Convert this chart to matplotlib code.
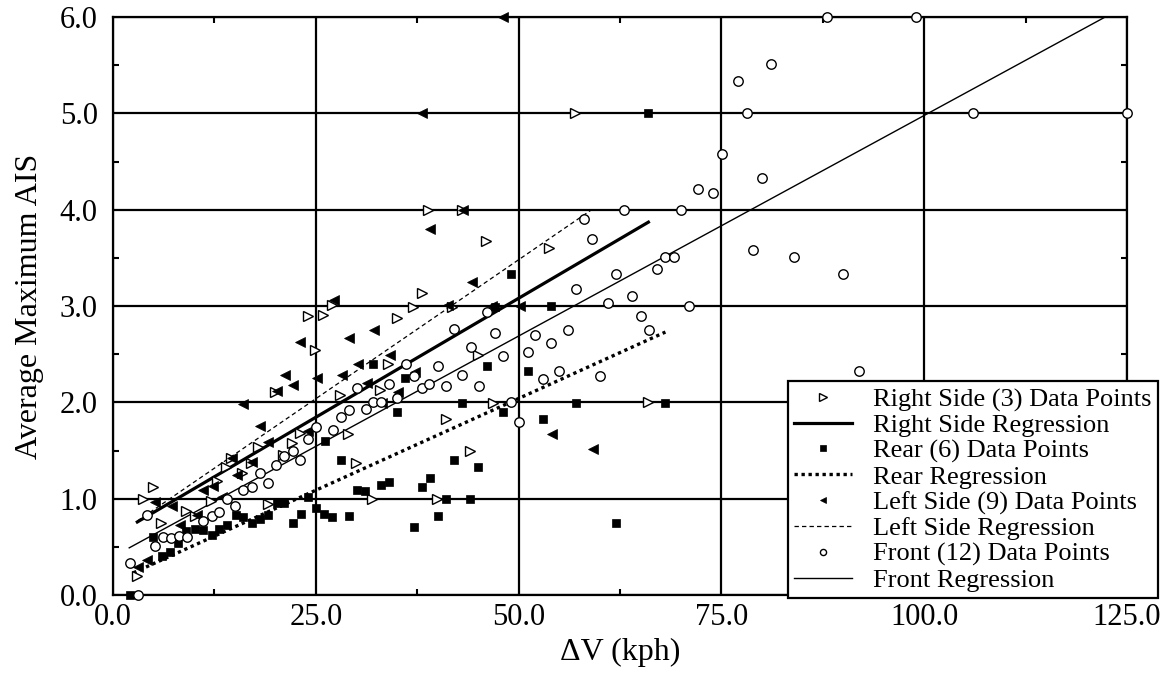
import matplotlib
matplotlib.use('Agg')
import matplotlib.pyplot as plt
from matplotlib.ticker import MultipleLocator, FormatStrFormatter
import numpy as np

plt.rcParams['font.family'] = ['Liberation Serif', 'DejaVu Serif']

# ---------------- data ----------------
right_x = [3.0, 3.7, 4.9, 5.9, 9.0, 10.1, 12.1, 12.8, 13.9, 14.6, 15.9, 17.0, 17.9, 19.1,
           20.0, 21.0, 22.1, 23.1, 24.0, 24.9, 25.9, 27.0, 28.0, 29.0, 30.0, 31.9, 32.9,
           33.9, 35.0, 37.0, 38.1, 38.8, 39.9, 41.1, 41.8, 43.0, 44.0, 45.0, 46.0, 46.9,
           53.8, 57.0, 66.0]
right_y = [0.20, 1.00, 1.12, 0.75, 0.87, 0.82, 0.98, 1.18, 1.33, 1.42, 1.27, 1.37, 1.54, 0.94,
           2.11, 1.45, 1.58, 1.68, 2.90, 2.54, 2.91, 3.01, 2.08, 1.67, 1.37, 1.00, 2.13,
           2.40, 2.88, 2.99, 3.13, 4.00, 1.00, 1.83, 2.99, 4.00, 1.50, 2.49, 3.67, 1.99,
           3.60, 5.00, 2.00]

rear_x = [2.1, 4.9, 6.0, 7.0, 8.0, 9.0, 10.1, 11.1, 12.2, 13.1, 14.1, 15.2, 16.0, 17.1, 18.1,
          19.1, 20.2, 21.1, 22.2, 23.2, 24.0, 25.0, 26.0, 26.1, 27.0, 28.1, 29.1, 30.1, 31.1,
          32.1, 33.0, 34.0, 35.0, 36.0, 37.1, 38.1, 39.1, 40.1, 41.1, 42.0, 43.0, 44.0, 45.0,
          46.1, 47.1, 48.1, 49.1, 51.1, 53.0, 54.0, 57.1, 62.0, 66.0, 68.1]
rear_y = [0.00, 0.60, 0.40, 0.45, 0.54, 0.66, 0.69, 0.67, 0.62, 0.68, 0.73, 0.83, 0.81, 0.75, 0.79,
          0.83, 0.96, 0.96, 0.75, 0.84, 1.02, 0.90, 0.84, 1.60, 0.81, 1.40, 0.82, 1.09, 1.08,
          2.40, 1.14, 1.17, 1.90, 2.25, 0.71, 1.12, 1.21, 0.82, 1.00, 1.40, 1.99, 1.00, 1.33,
          2.38, 2.99, 1.90, 3.33, 2.33, 1.83, 3.00, 1.99, 0.75, 5.00, 1.99]

left_x = [3.1, 4.2, 5.2, 7.3, 8.3, 10.3, 11.1, 12.3, 13.4, 14.7, 15.3, 16.0, 17.1, 18.1, 19.1,
          20.2, 21.2, 22.2, 23.1, 24.0, 25.1, 27.2, 28.2, 29.1, 30.2, 31.3, 32.2, 33.2, 34.2,
          35.1, 37.2, 38.1, 39.1, 41.3, 43.2, 44.3, 46.7, 48.1, 50.2, 54.1, 59.2]
left_y = [0.29, 0.36, 0.97, 0.92, 0.73, 0.83, 1.09, 1.13, 1.02, 1.42, 1.25, 1.98, 1.38, 1.75, 1.59,
          2.12, 2.28, 2.18, 2.63, 1.70, 2.25, 3.06, 2.28, 2.67, 2.40, 2.20, 2.75, 1.99, 2.49,
          2.11, 2.32, 5.00, 3.80, 3.01, 4.00, 3.25, 3.00, 6.00, 3.00, 1.67, 1.52]

front_x = [2.1, 3.1, 4.2, 5.2, 6.2, 7.1, 8.1, 9.1, 11.1, 12.2, 13.1, 14.1, 15.0, 16.0, 17.1, 18.1,
           19.1, 20.1, 21.1, 22.2, 23.1, 24.0, 25.0, 27.1, 28.1, 29.1, 30.1, 31.2, 32.1, 33.0,
           34.0, 35.0, 36.1, 37.1, 38.1, 39.0, 40.1, 41.1, 42.0, 43.0, 44.1, 45.1, 46.1, 47.1,
           48.1, 49.1, 50.0, 51.1, 52.0, 53.0, 54.0, 55.0, 56.1, 57.1, 58.1, 59.1, 60.0, 61.0,
           62.0, 63.0, 64.0, 65.1, 66.1, 67.1, 68.1, 69.1, 70.0, 71.0, 72.1, 74.0, 75.1, 77.1,
           78.1, 78.9, 80.0, 81.1, 84.0, 88.0, 90.0, 92.0, 99.0, 106.0, 125.0]
front_y = [0.33, 0.00, 0.83, 0.51, 0.60, 0.59, 0.61, 0.60, 0.77, 0.82, 0.86, 1.00, 0.92, 1.09, 1.12, 1.27,
           1.16, 1.35, 1.44, 1.49, 1.40, 1.62, 1.74, 1.71, 1.85, 1.92, 2.15, 1.93, 2.00, 2.00,
           2.19, 2.04, 2.40, 2.27, 2.15, 2.19, 2.38, 2.17, 2.76, 2.28, 2.57, 2.17, 2.94, 2.72,
           2.48, 2.00, 1.80, 2.52, 2.70, 2.24, 2.62, 2.33, 2.75, 3.18, 3.90, 3.70, 2.27, 3.03,
           3.33, 4.00, 3.10, 2.90, 2.75, 3.38, 3.51, 3.51, 4.00, 3.00, 4.21, 4.17, 4.58, 5.34,
           5.00, 3.58, 4.33, 5.51, 3.51, 6.00, 3.33, 2.33, 6.00, 5.00, 5.00]

# regression fits: (x start, x end), (intercept, slope)
right_fit_range = [3.0, 66.0]
right_fit = [0.61, 0.0494]
rear_fit_range = [2.5, 68.1]
rear_fit = [0.135, 0.0381]
left_fit_range = [3.0, 59.0]
left_fit = [0.595, 0.0577]
front_fit_range = [2.0, 122.4]
front_fit = [0.398, 0.0458]

labels = ['Right Side (3) Data Points', 'Right Side Regression',
          'Rear (6) Data Points', 'Rear Regression',
          'Left Side (9) Data Points', 'Left Side Regression',
          'Front (12) Data Points', 'Front Regression']

# ---------------- figure ----------------
W, H = 1168, 676
fig = plt.figure(figsize=(W / 100, H / 100), dpi=100)
ax = fig.add_axes([113 / W, 1 - 595 / H, (1127 - 113) / W, (595 - 17) / H])
ax.set_xlim(0, 125)
ax.set_ylim(0, 6)

ax.xaxis.set_major_locator(MultipleLocator(25))
ax.xaxis.set_minor_locator(MultipleLocator(12.5))
ax.yaxis.set_major_locator(MultipleLocator(1))
ax.yaxis.set_minor_locator(MultipleLocator(0.5))
ax.xaxis.set_major_formatter(FormatStrFormatter('%.1f'))
ax.yaxis.set_major_formatter(FormatStrFormatter('%.1f'))
ax.tick_params(which='both', direction='in', top=True, right=True, width=1.5, color='black')
ax.tick_params(which='major', length=0)
ax.tick_params(which='minor', length=4.5)
ax.tick_params(axis='x', which='major', labelsize=22, pad=6)
ax.tick_params(axis='y', which='major', labelsize=22, pad=11)

ax.grid(True, which='major', color='black', linewidth=1.6, zorder=1)
ax.set_axisbelow(True)
for s in ax.spines.values():
    s.set_linewidth(1.6)
    s.set_color('black')

ms_kw = dict(linestyle='none', clip_on=False, zorder=4)

h1, = ax.plot(right_x, right_y, marker='>', markersize=7.8, markerfacecolor='white',
              markeredgecolor='black', markeredgewidth=1.0, **ms_kw)
xr = np.array(right_fit_range)
h2, = ax.plot(xr, right_fit[0] + right_fit[1] * xr, color='black', linewidth=2.3, zorder=3)

h3, = ax.plot(rear_x, rear_y, marker='s', markersize=6.2, markerfacecolor='black',
              markeredgecolor='black', markeredgewidth=0.5, **ms_kw)
xr = np.array(rear_fit_range)
h4, = ax.plot(xr, rear_fit[0] + rear_fit[1] * xr, color='black', linewidth=2.4,
              linestyle=(0, (1, 1.1)), zorder=3)

h5, = ax.plot(left_x, left_y, marker='<', markersize=7.0, markerfacecolor='black',
              markeredgecolor='black', markeredgewidth=0.5, **ms_kw)
xr = np.array(left_fit_range)
h6, = ax.plot(xr, left_fit[0] + left_fit[1] * xr, color='black', linewidth=0.9,
              linestyle=(0, (3.5, 2.5)), zorder=3)

h7, = ax.plot(front_x, front_y, marker='o', markersize=6.8, markerfacecolor='white',
              markeredgecolor='black', markeredgewidth=1.0, **ms_kw)
xr = np.array(front_fit_range)
h8, = ax.plot(xr, front_fit[0] + front_fit[1] * xr, color='black', linewidth=1.0, zorder=3)

ax.set_xlabel('\u0394V (kph)', fontsize=23, labelpad=4)
ax.set_ylabel('Average Maximum AIS', fontsize=23, labelpad=11)

leg = ax.legend([h1, h2, h3, h4, h5, h6, h7, h8], labels,
                loc='lower right', bbox_to_anchor=(1.031, -0.006),
                fontsize=19, frameon=True, fancybox=False, shadow=False,
                labelspacing=0.08, handlelength=2.2, handletextpad=0.8,
                borderpad=0.25, borderaxespad=0.0, markerscale=0.65, framealpha=1.0)
leg.get_frame().set_edgecolor('black')
leg.get_frame().set_linewidth(1.6)
leg.set_zorder(10)

fig.savefig('out.png', dpi=100)
